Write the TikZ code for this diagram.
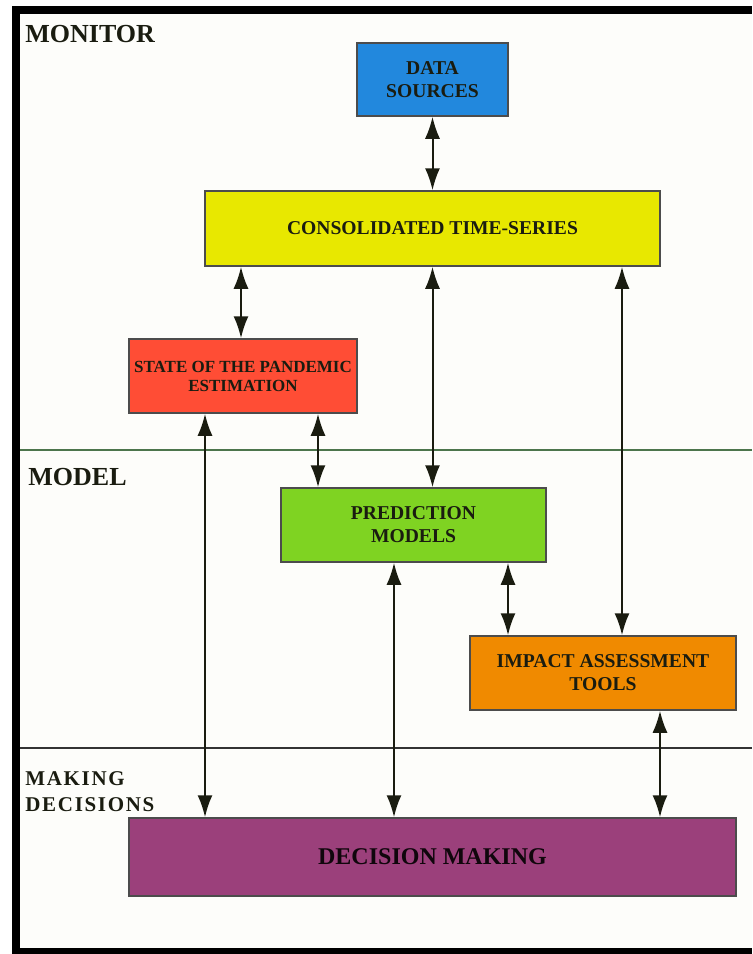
\documentclass[tikz,border=0pt]{standalone}
\usepackage{fontspec}
\setmainfont{Liberation Serif}
\usetikzlibrary{arrows.meta}

\definecolor{dsblue}{HTML}{2288DD}
\definecolor{ctsyellow}{HTML}{E8E800}
\definecolor{statered}{HTML}{FF4D35}
\definecolor{predgreen}{HTML}{7FD322}
\definecolor{impactorange}{HTML}{F08A00}
\definecolor{decpurple}{HTML}{9B407B}
\definecolor{inkdark}{HTML}{1A1C10}
\definecolor{paper}{HTML}{FDFDFA}

\tikzset{
  box/.style={draw=black!70, line width=0.75pt, inner sep=0pt, align=center,
    text=inkdark, font=\bfseries\fontsize{9.8}{11.5}\selectfont},
  link/.style={<->, >={Latex[length=11pt,width=7.5pt]}, line width=1pt, draw=inkdark},
  layer/.style={anchor=base west, inner sep=0pt, text=inkdark, font=\bfseries\fontsize{13}{15}\selectfont}
}

\begin{document}
\begin{tikzpicture}[x=0.5pt, y=-0.5pt]

\useasboundingbox (0,0) rectangle (752,954);

% ===== Frame and layers =====
\fill[white] (0,0) rectangle (752,954);
\fill[paper] (20,14) rectangle (752,948);
\fill[black] (12,6) rectangle (752,14);
\fill[black] (12,6) rectangle (20,954);
\fill[black] (12,948) rectangle (752,954);
\draw[line width=1pt, draw=black!60!green!40!gray] (20,450) -- (752,450);
\draw[line width=0.75pt, draw=black!80] (20,748) -- (752,748);

\node[layer] (monitor) at (25,42) {MONITOR};
\node[layer] (model) at (28,485) {MODEL};
\node[layer, font=\bfseries\fontsize{10.5}{13}\selectfont\addfontfeature{LetterSpace=8}, align=left, anchor=north west]
  (making) at (25,771) {MAKING\\DECISIONS};

% ===== Boxes =====
\node[box, fill=dsblue, minimum width=75.5pt, minimum height=36.5pt] (ds) at (432.5,79.5) {DATA\\SOURCES};
\node[box, fill=ctsyellow, minimum width=227.5pt, minimum height=37.5pt] (cts) at (432.5,228.5) {CONSOLIDATED TIME-SERIES};
\node[box, fill=statered, minimum width=114pt, minimum height=37pt,
  font=\bfseries\fontsize{8.5}{9.5}\selectfont] (state) at (243,376) {STATE OF THE PANDEMIC\\ESTIMATION};
\node[box, fill=predgreen, minimum width=132.5pt, minimum height=37pt] (pred) at (413.5,525) {PREDICTION\\MODELS};
\node[box, fill=impactorange, minimum width=133pt, minimum height=37pt] (impact) at (603,673) {IMPACT ASSESSMENT\\TOOLS};
\node[box, fill=decpurple, minimum width=303.5pt, minimum height=39pt,
  font=\bfseries\fontsize{12}{14}\selectfont, text=black!90!decpurple] (dec) at (432.5,857) {DECISION MAKING};

% ===== Connectors =====
\foreach \name/\xx in {colA/205, colB/241, colC/318, colD/394, colE/432.5, colF/508, colG/622, colH/660}
  \coordinate (\name) at (\xx,0);

\foreach \col/\from/\to in {colE/ds/cts, colB/cts/state, colE/cts/pred, colG/cts/impact,
    colC/state/pred, colA/state/dec, colD/pred/dec, colF/pred/impact, colH/impact/dec}
  \draw[link] (\from.south -| \col) -- (\to.north -| \col);

\end{tikzpicture}
\end{document}
